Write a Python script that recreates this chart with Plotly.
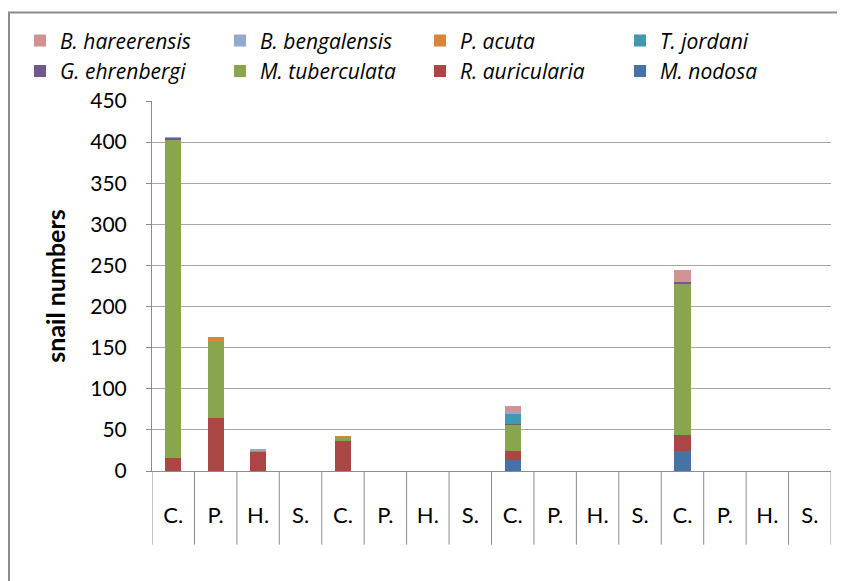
import plotly.graph_objects as go

categories = ["C.", "P.", "H.", "S.", "C.", "P.", "H.", "S.",
              "C.", "P.", "H.", "S.", "C.", "P.", "H.", "S."]
positions = list(range(len(categories)))

m_nodosa = [0, 0, 0, 0, 0, 0, 0, 0, 13, 0, 0, 0, 24, 0, 0, 0]
r_auricularia = [16, 64, 24, 0, 36, 0, 0, 0, 11, 0, 0, 0, 20, 0, 0, 0]
m_tuberculata = [387, 93, 1, 0, 5, 0, 0, 0, 32, 0, 0, 0, 184, 0, 0, 0]
g_ehrenbergi = [2, 0, 0, 0, 0, 0, 0, 0, 1, 0, 0, 0, 2, 0, 0, 0]
t_jordani = [0, 0, 0, 0, 0, 0, 0, 0, 13, 0, 0, 0, 0, 0, 0, 0]
p_acuta = [0, 6, 0, 0, 1, 0, 0, 0, 0, 0, 0, 0, 0, 0, 0, 0]
b_bengalensis = [1, 0, 1, 0, 0, 0, 0, 0, 2, 0, 0, 0, 0, 0, 0, 0]
b_hareerensis = [0, 0, 0, 0, 0, 0, 0, 0, 7, 0, 0, 0, 14, 0, 0, 0]

series = [
    ("M. nodosa", m_nodosa, "#4572A7"),
    ("R. auricularia", r_auricularia, "#AA4643"),
    ("M. tuberculata", m_tuberculata, "#89A54E"),
    ("G. ehrenbergi", g_ehrenbergi, "#71588F"),
    ("T. jordani", t_jordani, "#4198AF"),
    ("P. acuta", p_acuta, "#DB843D"),
    ("B. bengalensis", b_bengalensis, "#93A9CF"),
    ("B. hareerensis", b_hareerensis, "#D19392"),
]

FONT = "Lato"

fig = go.Figure()
for name, vals, col in series:
    fig.add_trace(go.Bar(x=positions, y=vals, name=name,
                         marker=dict(color=col, line=dict(width=0))))

W, H = 845, 581
L, R, T, B = 144, 22, 91, 118
pw, ph = W - L - R, H - T - B

def px_x(p):
    return (p - L) / pw

def px_y(p):
    return (H - B - p) / ph

shapes = []
# category separator lines extending below the axis
for i in range(len(categories) + 1):
    shapes.append(dict(type="line", xref="x", yref="paper",
                       x0=i - 0.5, x1=i - 0.5, y0=px_y(537), y1=0,
                       line=dict(color="#8C8C8C", width=1)))
# outer chart border
shapes.append(dict(type="rect", xref="paper", yref="paper",
                   x0=px_x(1), x1=px_x(860), y0=px_y(600), y1=px_y(2),
                   line=dict(color="#8C8C8C", width=2), layer="below"))

fig.update_layout(
    width=W, height=H,
    margin=dict(l=L, r=R, t=T, b=B),
    barmode="stack",
    bargap=0.62,
    plot_bgcolor="white",
    paper_bgcolor="white",
    font=dict(family=FONT, size=21, color="black"),
    showlegend=True,
    legend=dict(orientation="h", traceorder="reversed",
                x=px_x(12), y=px_y(10), xanchor="left", yanchor="top",
                entrywidth=155, entrywidthmode="pixels",
                font=dict(family="Open Sans", size=21, style="italic"),
                bgcolor="rgba(0,0,0,0)"),
    shapes=shapes,
)

fig.update_xaxes(
    range=[-0.5, len(categories) - 0.5],
    tickvals=positions, ticktext=categories,
    showgrid=False, ticks="", showline=True, linecolor="#8C8C8C", linewidth=1,
    ticklabelstandoff=25, tickfont=dict(size=22),
)
fig.update_yaxes(
    range=[0, 450], dtick=50,
    showgrid=True, gridcolor="#A6A6A6", gridwidth=1,
    showline=True, linecolor="#8C8C8C", linewidth=1,
    ticks="outside", ticklen=5, tickcolor="#8C8C8C",
    ticklabelstandoff=15,
    tickfont=dict(size=21),
    zeroline=False,
    title=dict(text="<b>snail numbers</b>", font=dict(size=25), standoff=17),
)

fig.write_html("out.html")
